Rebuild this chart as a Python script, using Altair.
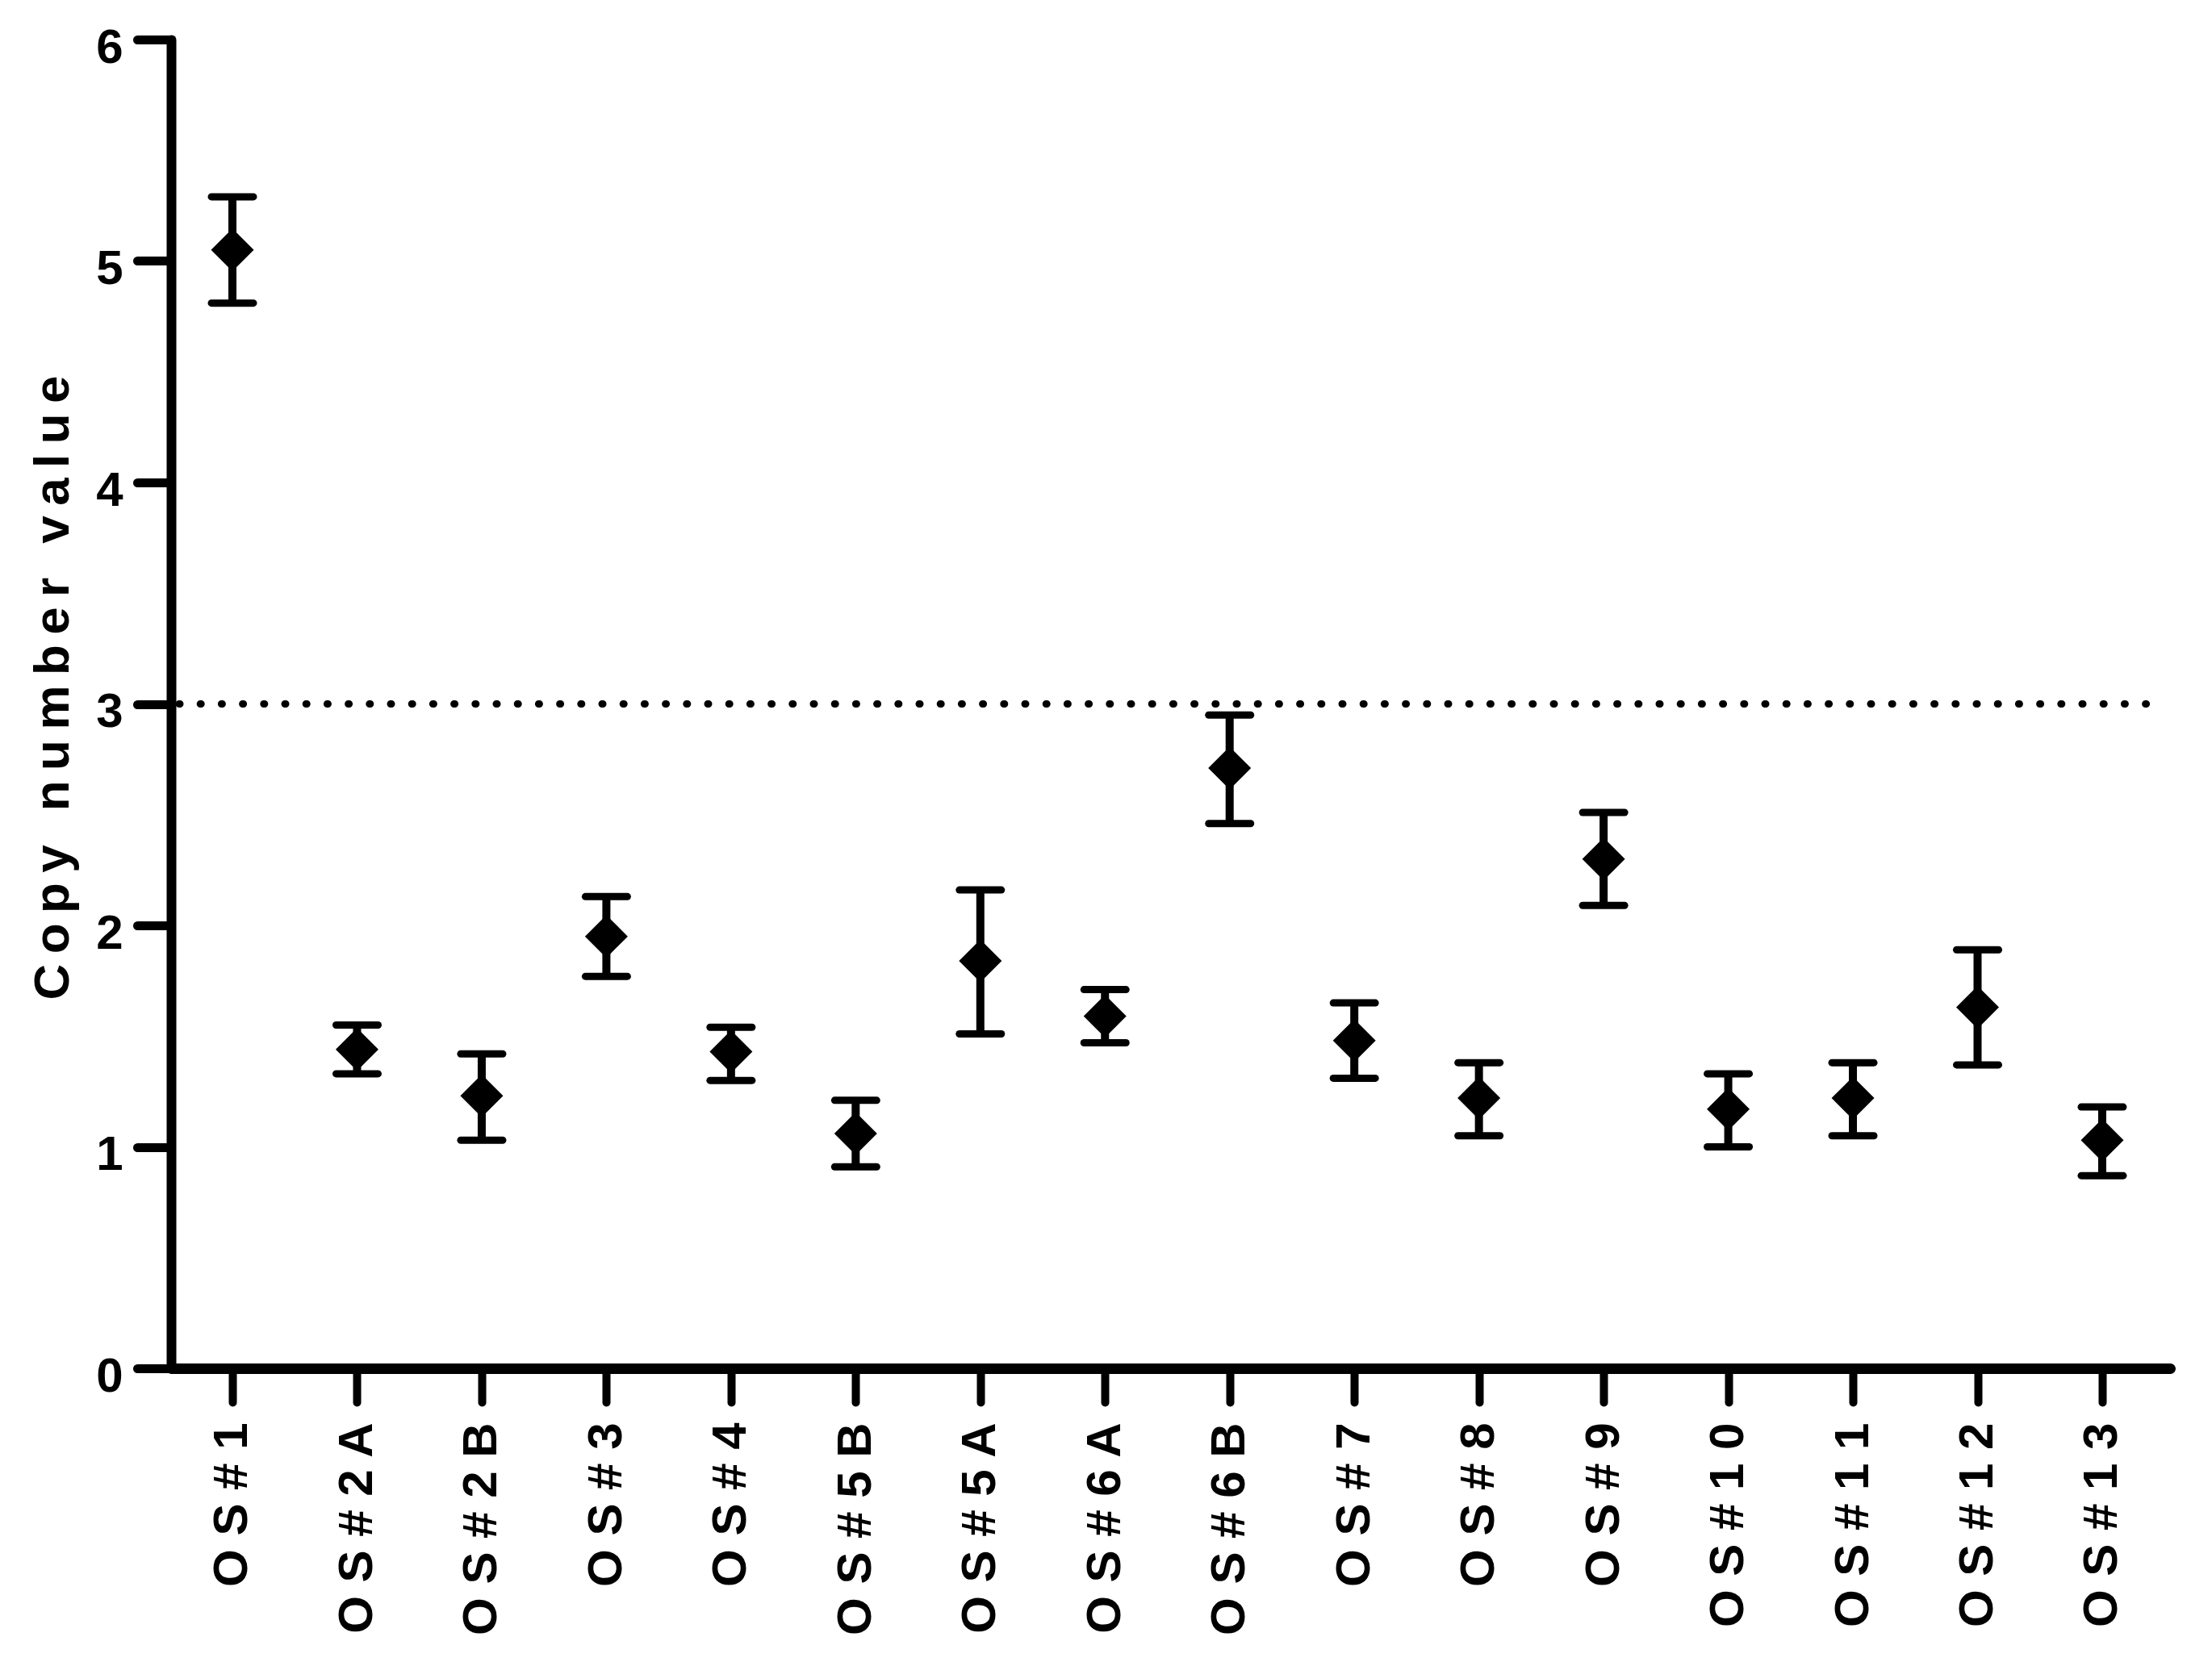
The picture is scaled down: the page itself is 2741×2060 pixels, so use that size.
import altair as alt
import pandas as pd

samples = ["OS#1", "OS#2A", "OS#2B", "OS#3", "OS#4", "OS#5B", "OS#5A", "OS#6A",
           "OS#6B", "OS#7", "OS#8", "OS#9", "OS#10", "OS#11", "OS#12", "OS#13"]
copy_number = [5.05, 1.44, 1.23, 1.95, 1.43, 1.06, 1.84, 1.59,
               2.71, 1.48, 1.22, 2.30, 1.17, 1.22, 1.63, 1.03]
err_low = [4.81, 1.33, 1.03, 1.77, 1.30, 0.91, 1.51, 1.47,
           2.46, 1.31, 1.05, 2.09, 1.00, 1.05, 1.37, 0.87]
err_high = [5.29, 1.55, 1.42, 2.13, 1.54, 1.21, 2.16, 1.71,
            2.95, 1.65, 1.38, 2.51, 1.33, 1.38, 1.89, 1.18]
threshold = [3]
y_ticks = [0, 1, 2, 3, 4, 5, 6]

df = pd.DataFrame({
    "idx": list(range(len(samples))),
    "sample": samples,
    "value": copy_number,
    "lo": err_low,
    "hi": err_high,
})
thr = pd.DataFrame({"t": threshold})

spaced = [" ".join(list(s)) for s in samples]
label_expr = "[" + ",".join("'" + s + "'" for s in spaced) + "][datum.value]"

FONT = "Liberation Sans"
W, H = 2477, 1647
TS = "\u2009"
y_title = TS.join("Copy") + TS + " " + TS + TS.join("number") + TS + " " + TS + TS.join("value")

x_scale = alt.Scale(domain=[-0.492, 15.544], nice=False, zero=False)
y_scale = alt.Scale(domain=[0, 6], nice=False, zero=True)

x_axis = alt.Axis(values=list(range(len(samples))), labelExpr=label_expr, labelAngle=270,
                  labelAlign="right", labelBaseline="middle", title=None, grid=False,
                  domainWidth=13, domainColor="black", domainCap="round",
                  tickWidth=10, tickSize=42, tickCap="round", tickColor="black",
                  labelPadding=25, labelFont=FONT, labelFontWeight="bold",
                  labelFontSize=60, labelColor="black", labelOverlap=False, labelLimit=0)
y_axis = alt.Axis(values=y_ticks, title=y_title, grid=False,
                  domainWidth=12, domainColor="black", domainCap="round",
                  tickWidth=11, tickSize=42, tickCap="round", tickColor="black",
                  labelPadding=18, labelFont=FONT, labelFontWeight="bold",
                  labelFontSize=60, labelColor="black", labelOffset=10,
                  titleFont=FONT, titleFontWeight="bold", titleFontSize=62,
                  titleColor="black", titleAngle=270, titleAlign="center",
                  titleBaseline="middle", titleX=-147, titleY=803, titleLimit=0)

xe = alt.X("idx:Q", scale=x_scale, axis=x_axis)
base = alt.Chart(df)

dotted = alt.Chart(thr).mark_rule(strokeDash=[1, 25.2], strokeWidth=9, strokeCap="round",
                                  color="black").encode(
    y=alt.Y("t:Q", scale=y_scale, axis=y_axis),
    x=alt.value(10), x2=alt.value(2462))

stems = base.mark_rule(strokeWidth=10, color="black").encode(
    x=xe, y=alt.Y("lo:Q", scale=y_scale, axis=y_axis), y2="hi:Q")

cap_hi = base.mark_rule(strokeWidth=9, strokeCap="round", color="black",
                        xOffset=-26, x2Offset=26).encode(
    x=xe, x2="idx:Q", y=alt.Y("hi:Q", scale=y_scale, axis=y_axis))
cap_lo = base.mark_rule(strokeWidth=9, strokeCap="round", color="black",
                        xOffset=-26, x2Offset=26).encode(
    x=xe, x2="idx:Q", y=alt.Y("lo:Q", scale=y_scale, axis=y_axis))

points = base.mark_point(shape="diamond", filled=True, size=2809, color="black",
                         opacity=1).encode(
    x=xe, y=alt.Y("value:Q", scale=y_scale, axis=y_axis))

chart = alt.layer(dotted, stems, cap_hi, cap_lo, points).properties(
    width=W, height=H,
    autosize=alt.AutoSizeParams(type="none"),
    padding={"left": 204, "top": 41, "right": 40, "bottom": 340},
    background="white",
).configure_view(stroke=None)

chart.save("out.html", embed_options={"renderer": "svg", "actions": False})
